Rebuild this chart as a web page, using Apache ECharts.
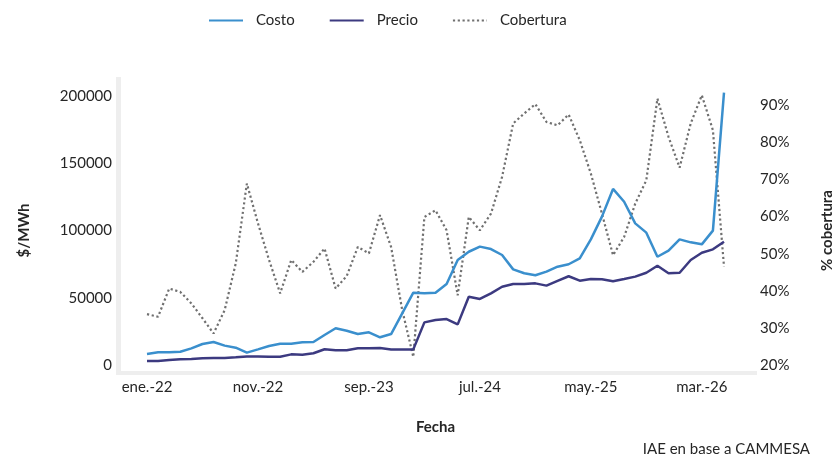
<!DOCTYPE html>
<html>
<head>
<meta charset="utf-8">
<script src="https://cdn.jsdelivr.net/npm/echarts@6/dist/echarts.min.js"></script>
<style>html,body{margin:0;padding:0;background:#fff;}#c{width:834px;height:457px;}</style>
</head>
<body>
<div id="c"></div>
<script>
const mesesAbr = ['ene.','feb.','mar.','abr.','may.','jun.','jul.','ago.','sep.','oct.','nov.','dic.'];
const categories = [];
for (let y = 22; y <= 26; y++) for (let m = 0; m < 12; m++) { if (y === 26 && m > 4) break; categories.push(mesesAbr[m] + '-' + y); }

const costo = [8200, 9400, 9400, 9900, 12400, 15600, 17100, 14400, 12900, 9200,
  11600, 14100, 15800, 15800, 16900, 17100, 22300, 27300, 25500, 23000,
  24300, 20600, 23000, 38400, 53800, 53300, 53800, 60200, 78100, 84200,
  88000, 86200, 81800, 71100, 68200, 66700, 69400, 73100, 74900, 79300,
  93400, 110300, 130900, 121400, 105300, 98400, 80500, 85000, 93400, 91200,
  89700, 99900, 202500];
const precio = [3000, 3000, 3700, 4200, 4500, 5000, 5200, 5200, 5700, 6400,
  6400, 6200, 6200, 7900, 7700, 8700, 11700, 11000, 10900, 12400,
  12400, 12600, 11600, 11600, 11600, 31700, 33500, 34200, 30200, 50800,
  49100, 53300, 58200, 60200, 60200, 60700, 59000, 62500, 66000, 62700,
  63900, 63700, 62200, 63900, 65700, 68600, 73800, 68200, 68600, 78100,
  83500, 86000, 91700];
const cobertura = [0.337, 0.330, 0.406, 0.397, 0.366, 0.326, 0.285, 0.348, 0.474, 0.689,
  0.582, 0.483, 0.393, 0.483, 0.451, 0.478, 0.514, 0.406, 0.440, 0.518,
  0.501, 0.604, 0.518, 0.348, 0.222, 0.599, 0.617, 0.563, 0.388, 0.599,
  0.563, 0.608, 0.707, 0.851, 0.878, 0.903, 0.855, 0.846, 0.875, 0.806,
  0.716, 0.608, 0.496, 0.545, 0.635, 0.698, 0.918, 0.815, 0.732, 0.851,
  0.927, 0.833, 0.465];

const leftTicks = {min: 0, max: 200000, interval: 50000};
const rightTicks = {min: 0.2, max: 0.925, interval: 0.1};

const FONT = 'Lato';
const TXT = '#262626';
const chart = echarts.init(document.getElementById('c'), null, {renderer: 'canvas'});
chart.setOption({
  animation: false,
  textStyle: {fontFamily: FONT},
  title: {
    text: 'IAE en base a CAMMESA', right: 24, top: 442, padding: 0,
    textStyle: {fontFamily: FONT, fontSize: 15, fontWeight: 'normal', color: TXT}
  },
  graphic: [
    {type: 'rect', left: 116, top: 77, shape: {width: 5, height: 298}, style: {fill: '#eeeeee'}, silent: true, z: 0},
    {type: 'rect', left: 116, top: 371, shape: {width: 641, height: 4}, style: {fill: '#eeeeee'}, silent: true, z: 0}
  ],
  legend: {
    left: 208, top: 13, padding: 0, itemGap: 34, itemWidth: 34, itemHeight: 14,
    itemStyle: {opacity: 0},
    textStyle: {fontFamily: FONT, fontSize: 15, color: TXT, padding: [0, 0, 0, 8]},
    data: ['Costo', 'Precio', 'Cobertura']
  },
  grid: {left: 147, right: 110, top: 96, bottom: 92, containLabel: false, outerBoundsMode: 'none'},
  xAxis: {
    type: 'category', data: categories, boundaryGap: false,
    axisLine: {show: false}, axisTick: {show: false},
    axisLabel: {interval: 9, margin: 15, fontFamily: FONT, fontSize: 15, color: TXT},
    name: 'Fecha', nameLocation: 'middle', nameGap: 55,
    nameTextStyle: {fontFamily: FONT, fontSize: 15, fontWeight: 'bold', color: TXT}
  },
  yAxis: [
    {
      type: 'value', min: leftTicks.min, max: leftTicks.max, interval: leftTicks.interval,
      axisLine: {show: false}, axisTick: {show: false}, splitLine: {show: false},
      axisLabel: {margin: 35, fontFamily: FONT, fontSize: 15, color: TXT, formatter: v => String(v)},
      name: '$/MWh', nameLocation: 'middle', nameGap: 115, nameRotate: 90,
      nameTextStyle: {fontFamily: FONT, fontSize: 15, fontWeight: 'bold', color: TXT}
    },
    {
      type: 'value', min: rightTicks.min, max: rightTicks.max, interval: rightTicks.interval,
      position: 'right',
      axisLine: {show: false}, axisTick: {show: false}, splitLine: {show: false},
      axisLabel: {margin: 36, showMaxLabel: false, fontFamily: FONT, fontSize: 15, color: TXT,
        formatter: v => Math.round(v * 100) + '%'},
      name: '% cobertura', nameLocation: 'middle', nameGap: 96, nameRotate: 90,
      nameTextStyle: {fontFamily: FONT, fontSize: 15, fontWeight: 'bold', color: TXT}
    }
  ],
  series: [
    {name: 'Costo', type: 'line', yAxisIndex: 0, data: costo, showSymbol: false, symbol: 'none', clip: false,
      itemStyle: {color: '#3a8fcd'}, lineStyle: {color: '#3a8fcd', width: 2.5}, z: 3},
    {name: 'Precio', type: 'line', yAxisIndex: 0, data: precio, showSymbol: false, symbol: 'none', clip: false,
      itemStyle: {color: '#3c3a80'}, lineStyle: {color: '#3c3a80', width: 2.5}, z: 3},
    {name: 'Cobertura', type: 'line', yAxisIndex: 1, data: cobertura, showSymbol: false, symbol: 'none', clip: false,
      itemStyle: {color: '#707070'}, lineStyle: {color: '#707070', width: 2.2, type: [2.2, 2.6]}, z: 2}
  ]
});
</script>
</body>
</html>
